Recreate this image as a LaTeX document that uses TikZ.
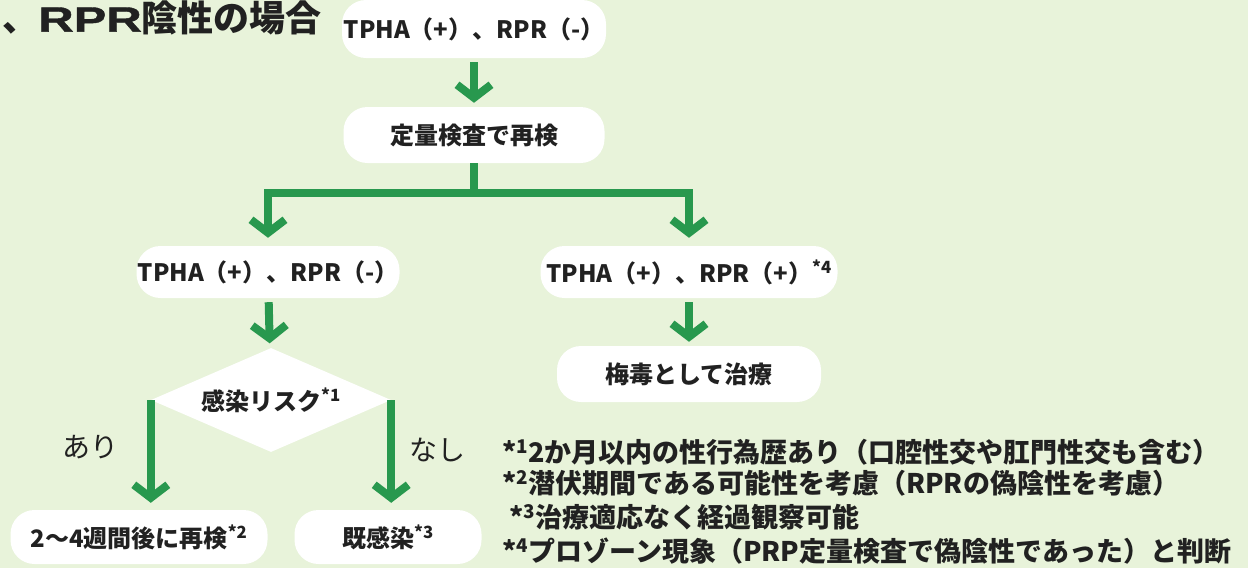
\documentclass[tikz,border=0pt]{standalone}
\usepackage{fontspec}
\setmainfont{Noto Sans CJK JP}
\newfontfamily\latinbold{Liberation Sans Bold}[FakeStretch=1.4,FakeBold=1.2]
\usetikzlibrary{arrows.meta,shapes.geometric}
\definecolor{bggreen}{RGB}{232,243,218}
\definecolor{arrowgreen}{RGB}{40,152,78}
\definecolor{ink}{RGB}{33,33,33}

\begin{document}
\begin{tikzpicture}[x=1pt,y=-1pt,>={Straight Barb[length=13pt,width=34pt]}]
    \tikzstyle{box}=[rectangle,rounded corners=24pt,fill=white,text=ink,font=\fontsize{24}{28}\selectfont\bfseries,minimum height=54pt,inner sep=0pt]
    \tikzstyle{flow}=[draw=arrowgreen,line width=8pt]
    \tikzstyle{note}=[anchor=west,text=ink,font=\fontsize{27}{30}\selectfont\bfseries,inner sep=0pt]
    \tikzstyle{branch}=[text=ink,font=\fontsize{28}{32}\selectfont]
    \fill [bggreen] (0,0) rectangle (1248,568);
    \useasboundingbox (0,0) rectangle (1248,568);
    \node (title) at (322,18) [anchor=east,text=ink,font=\fontsize{36}{40}\selectfont\bfseries,inner sep=0pt] {、{\latinbold\fontsize{35}{40}\selectfont RPR}陰性の場合};
    \node (top) at (474,29) [box,minimum width=264pt,minimum height=58pt] {TPHA（+）、RPR（-）};
    \node (recheck) at (474,135) [box,minimum width=261pt,minimum height=56pt] {定量検査で再検};
    \coordinate (split) at (474,193);
    \node (neg) at (268,272) [box,minimum width=263pt,minimum height=52pt] {TPHA（+）、RPR（-）};
    \node (pos) at (689,272) [box,minimum width=297pt,minimum height=52pt] {TPHA（+）、RPR（+）\textsuperscript{*4}};
    \node (treat) at (689,374) [box,minimum width=264pt,minimum height=56pt] {梅毒として治療};
    \node (risk) at (271,400) [diamond,fill=white,aspect=2.3,minimum width=240pt,minimum height=104pt,inner sep=0pt,text=ink,font=\fontsize{24}{28}\selectfont\bfseries] {感染リスク\textsuperscript{*1}};
    \node (retest) at (139,537) [box,minimum width=257pt] {2〜4週間後に再検\textsuperscript{*2}};
    \node (past) at (388,537) [box,minimum width=187pt] {既感染\textsuperscript{*3}};
    \node (ari) at (90,447) [branch] {あり};
    \node (nashi) at (437,450) [branch] {なし};
    \node (note1) at (502,452) [note] {*\textsuperscript{1}2か月以内の性行為歴あり（口腔性交や肛門性交も含む）};
    \node (note2) at (502,483) [note] {*\textsuperscript{2}潜伏期間である可能性を考慮（RPRの偽陰性を考慮）};
    \node (note3) at (509,517) [note] {*\textsuperscript{3}治療適応なく経過観察可能};
    \node (note4) at (502,551) [note] {*\textsuperscript{4}プロゾーン現象（PRP定量検査で偽陰性であった）と判断};
    \draw [flow,->,shorten <=4pt,shorten >=4pt] (top) -- (recheck);
    \draw [flow] (recheck) -- (split);
    \draw [flow,->,shorten >=8pt] (split) -| (neg);
    \draw [flow,->,shorten >=8pt] (split) -| (pos);
    \draw [flow,->,shorten <=4pt,shorten >=5pt] (neg) -- (risk);
    \draw [flow,->,shorten <=4pt,shorten >=4pt] (pos) -- (treat);
    \draw [flow,->,shorten >=7pt] (risk.west) -- (risk.west |- retest.north);
    \draw [flow,->,shorten >=7pt] (risk.east) -- (risk.east |- past.north);
\end{tikzpicture}
\end{document}
